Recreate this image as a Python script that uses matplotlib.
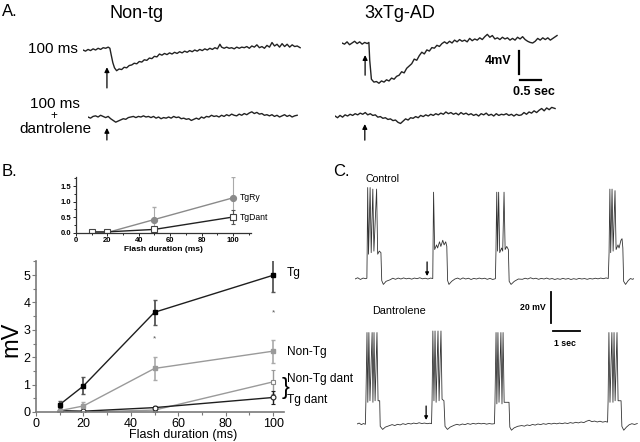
import numpy as np
import matplotlib
matplotlib.use("Agg")
import matplotlib.pyplot as plt
from matplotlib.ticker import MultipleLocator, FormatStrFormatter

plt.rcParams['font.family'] = ['Liberation Sans', 'DejaVu Sans']

# ---------- data ----------
# A. light-flash responses (time in s, membrane potential in mV, relative to baseline)
nontg_t = [0.00, 0.06, 0.12, 0.18, 0.24, 0.30, 0.36, 0.42, 0.48, 0.54, 0.60, 0.64, 0.67, 0.71, 0.75,
           0.80, 0.86, 0.92, 0.98, 1.04, 1.10, 1.16, 1.22, 1.28, 1.34, 1.40, 1.46, 1.52, 1.58, 1.64,
           1.70, 1.76, 1.82, 1.88, 1.94, 2.00, 2.06, 2.12, 2.18, 2.24, 2.30, 2.36, 2.42, 2.48, 2.54,
           2.60, 2.66, 2.72, 2.78, 2.84, 2.90, 2.96, 3.02, 3.08, 3.14, 3.20, 3.26, 3.30, 3.36, 3.42,
           3.48, 3.54, 3.60, 3.66, 3.72, 3.78, 3.84, 3.90, 3.96, 4.02, 4.08, 4.14, 4.20, 4.26, 4.32,
           4.38, 4.44, 4.50, 4.56, 4.62, 4.68, 4.74, 4.80, 4.86, 4.92, 4.98, 5.04, 5.10, 5.17]
nontg_v = [0.0, -0.2, 0.1, -0.1, 0.2, 0.0, 0.3, 0.1, 0.4, 0.3, 0.5, 0.3, -0.8, -2.2, -3.1,
           -3.6, -3.3, -3.4, -3.0, -3.1, -2.7, -2.6, -2.3, -2.4, -2.0, -2.1, -1.7, -1.8, -1.4, -1.5,
           -1.1, -1.2, -0.7, -0.9, -0.6, -0.8, -0.5, -0.7, -0.4, -0.6, -0.3, -0.5, -0.2, -0.4, -0.1,
           -0.3, 0.0, -0.2, 0.1, -0.1, 0.2, 0.0, 0.3, 0.1, 0.4, 0.2, 1.0, 0.5, 0.3, 0.5,
           0.3, 0.4, 0.2, 0.5, 0.3, 0.5, 0.4, 0.6, 0.3, 0.7, 0.5, 0.9, 0.4, 0.6, 0.3,
           0.8, 0.5, 1.3, 0.7, 1.0, 0.5, 1.1, 0.6, 1.0, 0.5, 0.9, 0.6, 0.7, 0.4]

nontg_dant_t = [0.00, 0.06, 0.12, 0.18, 0.24, 0.30, 0.36, 0.42, 0.48, 0.54, 0.60, 0.66, 0.72, 0.78,
                0.84, 0.90, 0.96, 1.02, 1.08, 1.14, 1.20, 1.26, 1.32, 1.38, 1.44, 1.50, 1.56, 1.62,
                1.68, 1.74, 1.80, 1.86, 1.92, 1.98, 2.04, 2.10, 2.16, 2.22, 2.28, 2.34, 2.40, 2.46,
                2.52, 2.58, 2.64, 2.70, 2.76, 2.82, 2.88, 2.94, 3.00, 3.06, 3.12, 3.18, 3.24, 3.30,
                3.36, 3.42, 3.48, 3.54, 3.60, 3.66, 3.72, 3.78, 3.84, 3.90, 3.96, 4.02, 4.08, 4.14,
                4.20, 4.26, 4.32, 4.38, 4.44, 4.50, 4.56, 4.62, 4.68, 4.74, 4.80, 4.86, 4.92, 4.98]
nontg_dant_v = [0.0, -0.2, 0.1, 0.2, 0.0, 0.3, 0.1, -0.1, 0.1, -0.3, -0.6, -0.9, -0.7, -0.5,
                -0.3, -0.4, -0.1, 0.0, 0.1, -0.1, 0.1, 0.0, 0.2, 0.0, 0.1, -0.1, 0.1, -0.2,
                0.0, -0.3, -0.1, -0.2, 0.0, -0.2, 0.1, -0.1, 0.0, -0.3, -0.2, -0.4, -0.3, -0.6,
                -0.4, -0.2, -0.4, 0.0, -0.2, 0.1, 0.0, 0.3, 0.1, 0.2, 0.0, 0.3, 0.1, 0.4,
                0.2, 0.5, 0.3, 0.2, 0.5, 0.3, 0.6, 0.4, 0.7, 0.9, 0.6, 0.8, 0.5, 0.6,
                0.3, 0.4, 0.2, 0.4, 0.1, 0.3, 0.0, 0.2, 0.4, 0.1, 0.3, 0.0, 0.2, 0.3]

tg_t = [0.00, 0.06, 0.12, 0.18, 0.24, 0.30, 0.36, 0.42, 0.48, 0.54, 0.60, 0.64, 0.66, 0.70, 0.76,
        0.82, 0.88, 0.94, 1.00, 1.06, 1.12, 1.18, 1.24, 1.30, 1.36, 1.42, 1.48, 1.54, 1.60, 1.66,
        1.72, 1.78, 1.84, 1.90, 1.96, 2.02, 2.08, 2.14, 2.20, 2.26, 2.32, 2.38, 2.44, 2.50, 2.56,
        2.62, 2.68, 2.74, 2.80, 2.86, 2.92, 2.98, 3.04, 3.10, 3.16, 3.22, 3.28, 3.34, 3.40, 3.46,
        3.52, 3.58, 3.64, 3.70, 3.76, 3.82, 3.88, 3.94, 4.00, 4.06, 4.12, 4.18, 4.24, 4.30, 4.36,
        4.42, 4.48, 4.54, 4.60, 4.66, 4.72, 4.78, 4.84, 4.90, 4.96, 5.02, 5.08, 5.12]
tg_v = [0.0, -0.2, 0.2, -0.3, 0.0, 0.3, -0.1, 0.2, -0.2, 0.1, -0.1, 0.1, -3.0, -6.3, -6.8,
        -6.7, -7.0, -6.6, -6.8, -6.4, -6.6, -6.1, -6.3, -5.8, -5.6, -5.0, -5.2, -4.4, -4.0, -3.6,
        -2.8, -3.0, -2.2, -1.6, -1.9, -1.2, -1.4, -0.8, -0.9, -0.4, -0.6, -0.1, 0.2, -0.1, 0.3,
        0.0, 0.5, 0.2, 0.6, 0.3, 0.5, 0.2, 0.8, 0.4, 0.7, 0.5, 0.9, 0.6, 1.1, 1.5,
        1.0, 1.3, 0.7, 0.9, 0.6, 1.0, 0.7, 0.9, 0.5, 0.8, 0.5, 1.0, 0.7, 1.1, 0.6,
        0.3, 0.1, 0.0, 0.3, 0.8, 0.5, 0.9, 0.6, 0.9, 0.5, 0.8, 1.1, 1.3]

tg_dant_t = [0.00, 0.06, 0.12, 0.18, 0.24, 0.30, 0.36, 0.42, 0.48, 0.54, 0.60, 0.66, 0.72, 0.78,
             0.84, 0.90, 0.96, 1.02, 1.08, 1.14, 1.20, 1.26, 1.32, 1.38, 1.44, 1.50, 1.56, 1.62,
             1.68, 1.74, 1.80, 1.86, 1.92, 1.98, 2.04, 2.10, 2.16, 2.22, 2.28, 2.34, 2.40, 2.46,
             2.52, 2.58, 2.64, 2.70, 2.76, 2.82, 2.88, 2.94, 3.00, 3.06, 3.12, 3.18, 3.24, 3.30,
             3.36, 3.42, 3.48, 3.54, 3.60, 3.66, 3.72, 3.78, 3.84, 3.90, 3.96, 4.02, 4.08, 4.14,
             4.20, 4.26, 4.32, 4.38, 4.44, 4.50, 4.56, 4.62, 4.68, 4.74, 4.80, 4.86, 4.92, 4.98,
             5.04, 5.10, 5.16, 5.24]
tg_dant_v = [0.0, -0.3, 0.1, -0.2, 0.2, 0.0, 0.3, 0.1, 0.4, 0.2, 0.5, 0.3, 0.6, 0.2,
             0.4, 0.1, 0.2, -0.2, -0.1, -0.4, -0.3, -0.6, -0.5, -0.8, -0.7, -1.1, -1.3, -0.9,
             -0.5, -0.7, -0.3, -0.4, -0.1, -0.3, 0.1, -0.1, 0.2, 0.0, 0.3, 0.1, 0.4, 0.2,
             0.5, 0.3, 0.7, 0.4, 0.6, 0.3, 0.5, 0.2, 0.6, 0.3, 0.5, 0.2, 0.4, 0.1,
             0.3, 0.0, 0.4, 0.2, 0.5, 0.1, 0.3, 0.0, 0.4, 0.1, 0.3, 0.2, 0.4, 0.1,
             0.3, 0.0, 0.3, 0.1, 0.2, 0.6, 0.3, 0.7, 0.5, 0.9, 0.6, 1.0, 1.3, 0.9,
             1.4, 1.1, 1.5, 1.3]

# B. amplitude vs flash duration
flash_ms = [10, 20, 50, 100]
tg_amp = [0.27, 0.95, 3.64, 4.99]
tg_err = [0.14, 0.31, 0.46, 0.60]
nontg_amp = [0.05, 0.22, 1.59, 2.22]
nontg_err = [0.02, 0.14, 0.43, 0.42]
nontg_dant_amp = [0.02, 0.0, 0.07, 1.10]
nontg_dant_err = [0.0, 0.0, 0.03, 0.45]
tg_dant_amp = [0.05, 0.03, 0.16, 0.53]
tg_dant_err = [0.02, 0.02, 0.05, 0.23]
signif_ms = [50, 100]
signif_y = [2.66, 3.60]

# B inset
tgry_amp = [0.0, 0.0, 0.42, 1.12]
tgry_err = [0.0, 0.0, 0.40, 0.68]
tgdant_amp = [0.02, 0.02, 0.10, 0.50]
tgdant_err = [0.0, 0.0, 0.05, 0.24]

# C. spontaneous bursts (time in s, mV relative to resting level)
ctrl_t = [0.00, 0.10, 0.20, 0.30, 0.40, 0.44,
          0.45, 0.47, 0.50, 0.56, 0.60, 0.66, 0.70, 0.80, 0.84, 0.90, 0.96, 0.99, 1.05, 1.15, 1.30,
          1.40, 1.50, 1.60, 1.70, 1.80, 1.90, 2.00, 2.10, 2.20, 2.30, 2.40, 2.50, 2.60, 2.70, 2.80, 2.88,
          2.89, 2.91, 2.95, 3.02, 3.06, 3.13, 3.18, 3.25, 3.30, 3.36, 3.40, 3.43, 3.48, 3.58, 3.70,
          3.80, 3.90, 4.00, 4.10, 4.20, 4.30, 4.40, 4.50, 4.60, 4.70, 4.80, 4.90, 5.00, 5.10, 5.20,
          5.22, 5.25, 5.28, 5.32, 5.36, 5.43, 5.47, 5.52, 5.56, 5.62, 5.68, 5.71, 5.78, 5.90, 6.05,
          6.20, 6.30, 6.40, 6.50, 6.60, 6.70, 6.80, 6.90, 7.00, 7.10, 7.20, 7.30, 7.40, 7.50, 7.60,
          7.70, 7.80, 7.90, 8.00, 8.10, 8.20, 8.30, 8.40, 8.50, 8.60, 8.70, 8.80, 8.90, 9.00, 9.10,
          9.20, 9.30, 9.38,
          9.41, 9.44, 9.47, 9.52, 9.56, 9.63, 9.67, 9.74, 9.78, 9.85, 9.89, 9.92, 9.95, 10.02,
          10.12, 10.20, 10.28, 10.35]
ctrl_v = [0.0, 0.8, -0.3, 0.6, 0.2, 0.5,
          17, 59, 16, 59, 17, 58, 18, 58, 16, 18, 17, -1.0, -3.5, -1.5, -0.5,
          0.5, -0.2, 0.6, 0.0, 0.7, 0.1, 0.5, -0.1, 0.6, 0.2, 0.8, 0.1, 0.5, 0.0, 0.6, 0.3,
          18, 56, 19, 22, 20, 24, 21, 25, 22, 24, 21, -1.0, -3.5, -1.5, 0.0,
          0.6, -0.2, 0.7, 0.0, 0.5, -0.3, 0.4, 0.0, 0.6, 0.1, 0.5, -0.2, 0.4, -0.3, 0.2,
          17, 56, 18, 56, 17, 20, 18, 56, 19, 21, 19, -1.5, -3.5, -1.5, 0.0,
          -0.2, 0.5, 0.0, 0.8, 0.1, 0.5, -0.2, 0.4, 0.0, 0.6, -0.1, 0.3, -0.3, 0.2, -0.2,
          0.4, -0.1, 0.3, -0.3, 0.2, -0.2, 0.4, 0.0, 0.3, -0.2, 0.3, 0.0, 0.5, 0.1, 0.6,
          0.2, 0.7, 0.3,
          17, 58, 17, 58, 18, 57, 19, 22, 20, 25, 26, 20, -1.5, -3.5,
          -1.0, 0.3, -0.2, 0.4]

dant_t = [0.00, 0.08, 0.16, 0.24, 0.31,
          0.33, 0.37, 0.40, 0.44, 0.48, 0.56, 0.59, 0.63, 0.67, 0.74, 0.78, 0.84, 0.86, 0.95, 1.05, 1.20,
          1.30, 1.40, 1.50, 1.60, 1.70, 1.80, 1.90, 2.00, 2.10, 2.20, 2.30, 2.40, 2.50, 2.60, 2.70, 2.76,
          2.78, 2.81, 2.85, 2.89, 2.93, 3.00, 3.04, 3.11, 3.15, 3.22, 3.26, 3.35, 3.45, 3.60,
          3.70, 3.80, 3.90, 4.00, 4.10, 4.20, 4.30, 4.40, 4.50, 4.60, 4.70, 4.80, 4.90, 5.00, 5.09,
          5.11, 5.15, 5.18, 5.22, 5.26, 5.33, 5.37, 5.41, 5.45, 5.58, 5.63, 5.66, 5.72, 5.82, 5.95,
          6.10, 6.20, 6.30, 6.40, 6.50, 6.60, 6.70, 6.80, 6.90, 7.00, 7.10, 7.20, 7.30, 7.40, 7.50,
          7.60, 7.70, 7.80, 7.90, 8.00, 8.10, 8.20, 8.30, 8.40, 8.50, 8.60, 8.70, 8.80, 8.90, 9.00,
          9.10, 9.20, 9.28,
          9.30, 9.33, 9.37, 9.44, 9.48, 9.52, 9.56, 9.63, 9.67, 9.78, 9.81, 9.88, 9.98, 10.08,
          10.18, 10.28, 10.38]
dant_v = [0.0, 0.6, -0.4, 0.3, -0.2,
          15, 59, 14, 59, 15, 59, 14, 59, 15, 59, 15, 15, -1.5, -3.5, -2.0, -1.0,
          -0.4, -1.0, -0.2, -0.6, 0.2, -0.3, 0.4, 0.0, 0.6, 0.2, 0.8, 0.3, 0.6, 0.2, 0.5, 0.2,
          15, 60, 15, 60, 14, 60, 15, 60, 16, 15, -1.5, -3.5, -2.0, -0.8,
          -0.2, -0.7, 0.0, -0.4, 0.3, -0.2, 0.4, 0.0, 0.5, 0.1, 0.4, -0.1, 0.3, 0.0, 0.2,
          14, 59, 13, 59, 14, 59, 13, 59, 14, 14, 14, -2.0, -4.0, -2.5, -1.5,
          -1.0, -1.4, -0.6, -1.0, -0.3, -0.7, 0.0, -0.4, 0.2, -0.2, 0.4, 0.0, 0.5, 0.1, 0.6,
          0.2, 0.7, 0.3, 0.9, 0.5, 1.1, 0.7, 1.3, 0.9, 1.8, 2.4, 1.5, 1.9, 1.3, 1.8,
          1.2, 1.6, 1.2,
          15, 59, 14, 59, 14, 59, 15, 59, 15, 15, -1.5, -4.0, -2.0, -0.5,
          0.2, -0.3, 0.3]

# ---------- layout helpers (pixel positions of the 640x442 figure) ----------
W, H = 640, 442
fig = plt.figure(figsize=(6.4, 4.42), dpi=100)


def px_box(left, top, right, bottom):
    return [left / W, 1 - bottom / H, (right - left) / W, (bottom - top) / H]


def trace_axes(x0, y0, xpx, ypx, tmax, vlo, vhi):
    # x0, y0: pixel of (t=0, v=0); xpx: px per s; ypx: px per mV
    ax = fig.add_axes(px_box(x0, y0 - vhi * ypx, x0 + tmax * xpx, y0 - vlo * ypx))
    ax.set_xlim(0, tmax)
    ax.set_ylim(vlo, vhi)
    ax.axis('off')
    return ax


def stim_arrow(ax, t, v_tail, v_head, ms=7):
    ax.annotate('', xy=(t, v_head), xytext=(t, v_tail), annotation_clip=False,
                arrowprops=dict(arrowstyle='-|>', color='k', lw=0.9, mutation_scale=ms,
                                shrinkA=0, shrinkB=0))


# overlay for labels
ov = fig.add_axes([0, 0, 1, 1], zorder=-1)
ov.set_xlim(0, W)
ov.set_ylim(H, 0)
ov.axis('off')
ov.patch.set_alpha(0)

# ---------- panel A ----------
ov.text(2, 12, 'A.', fontsize=12, va='center')
ov.text(137, 13, 'Non-tg', fontsize=13, ha='center', va='center')
ov.text(400, 13, '3xTg-AD', fontsize=13, ha='center', va='center')
ov.text(78, 49, '100 ms', fontsize=11, ha='right', va='center')
ov.text(55, 104, '100 ms', fontsize=11, ha='center', va='center')
ov.text(54, 116.5, '+', fontsize=8.5, ha='center', va='center')
ov.text(55, 129, 'dantrolene', fontsize=11, ha='center', va='center')

a1 = trace_axes(83, 50, 42, 5.75, 5.2, -8, 3)
a1.plot(nontg_t, nontg_v, color='#222222', lw=1.0)
stim_arrow(a1, 0.57, -6.6, -3.0)

a2 = trace_axes(88, 117, 42, 5.75, 5.0, -5, 3)
a2.plot(nontg_dant_t, nontg_dant_v, color='#222222', lw=1.0)
stim_arrow(a2, 0.45, -4.0, -1.9)

a3 = trace_axes(342, 43, 42, 5.75, 5.15, -8, 2)
a3.plot(tg_t, tg_v, color='#222222', lw=1.0)
stim_arrow(a3, 0.55, -5.6, -2.1)
# scale bars: 4 mV, 0.5 s
a3.plot([4.21, 4.21], [-1.4, -5.4], color='k', lw=1.6, clip_on=False)
a3.plot([4.24, 4.74], [-6.4, -6.4], color='k', lw=1.6, clip_on=False)
ov.text(511, 61, '4mV', fontsize=9, fontweight='bold', ha='right', va='center')
ov.text(534, 92, '0.5 sec', fontsize=9, fontweight='bold', ha='center', va='center')

a4 = trace_axes(335, 116, 42, 5.75, 5.25, -5, 3)
a4.plot(tg_dant_t, tg_dant_v, color='#222222', lw=1.0)
stim_arrow(a4, 0.71, -4.2, -1.4)

# ---------- panel B ----------
ov.text(2, 172, 'B.', fontsize=12, va='center')
ov.text(11, 339, 'mV', fontsize=17, rotation=90, ha='center', va='center')
ov.text(183, 435, 'Flash duration (ms)', fontsize=9, ha='center', va='center')

dark, grey = '#1e1e1e', '#9a9a9a'
axis_grey = '#7a7a7a'

b = fig.add_axes(px_box(36, 261.3, 283.5, 412))
b.set_xlim(0, 104.4)
b.set_ylim(0, 5.5)
b.errorbar(flash_ms, nontg_dant_amp, yerr=nontg_dant_err, color=grey, lw=1.0, marker='s', ms=3.5,
           mfc='white', mec='#888888', mew=0.8, capsize=1.5, elinewidth=1.0)
b.errorbar(flash_ms, tg_dant_amp, yerr=tg_dant_err, color=dark, lw=1.0, marker='o', ms=3.5,
           mfc='white', mec=dark, mew=0.8, capsize=1.5, elinewidth=1.0)
b.errorbar(flash_ms, nontg_amp, yerr=nontg_err, color=grey, lw=1.0, marker='s', ms=3.2,
           mfc=grey, mec=grey, capsize=1.5, elinewidth=1.2, ecolor='#aaaaaa')
b.errorbar(flash_ms, tg_amp, yerr=tg_err, color=dark, lw=1.0, marker='s', ms=3.0,
           mfc='k', mec='k', capsize=1.5, elinewidth=1.3, ecolor='#555555')
for xm, ym in zip(signif_ms, signif_y):
    b.text(xm, ym, '*', fontsize=6, color='#555555', ha='center', va='center')
for s in ['top', 'right']:
    b.spines[s].set_visible(False)
for s in ['left', 'bottom']:
    b.spines[s].set_color(axis_grey)
    b.spines[s].set_linewidth(1.2)
b.xaxis.set_major_locator(MultipleLocator(20))
b.xaxis.set_minor_locator(MultipleLocator(10))
b.yaxis.set_major_locator(MultipleLocator(1))
b.yaxis.set_minor_locator(MultipleLocator(0.5))
b.tick_params(which='both', colors=axis_grey, labelcolor='k', labelsize=9, length=3, width=0.8,
              pad=1)
b.tick_params(which='minor', length=2)
b.patch.set_alpha(0)

b.text(105.9, 5.07, 'Tg', fontsize=8.6, va='center', clip_on=False)
b.text(105.9, 2.19, 'Non-Tg', fontsize=8.6, va='center', clip_on=False)
b.text(105.9, 1.2, 'Non-Tg dant', fontsize=8.6, va='center', clip_on=False)
b.text(105.9, 0.44, 'Tg dant', fontsize=8.6, va='center', clip_on=False)
b.text(103.4, 0.86, '}', fontsize=17, va='center', ha='left', fontweight='light', clip_on=False)

# inset
ins = fig.add_axes(px_box(76, 176.8, 251, 232.5))
ins.set_xlim(0, 111.5)
ins.set_ylim(0, 1.8)
ins.errorbar(flash_ms, tgry_amp, yerr=tgry_err, color='#8a8a8a', lw=1.0, marker='o', ms=4.2,
             mfc='#8a8a8a', mec='#8a8a8a', capsize=1.2, elinewidth=0.8, ecolor='#aaaaaa')
ins.errorbar(flash_ms, tgdant_amp, yerr=tgdant_err, color='#222222', lw=1.0, marker='s', ms=4.2,
             mfc='white', mec='#444444', mew=0.8, capsize=1.2, elinewidth=0.8, ecolor='#555555')
for s in ['top', 'right']:
    ins.spines[s].set_visible(False)
for s in ['left', 'bottom']:
    ins.spines[s].set_color('#333333')
    ins.spines[s].set_linewidth(0.9)
ins.xaxis.set_major_locator(MultipleLocator(20))
ins.xaxis.set_minor_locator(MultipleLocator(10))
ins.yaxis.set_major_locator(MultipleLocator(0.5))
ins.yaxis.set_minor_locator(MultipleLocator(0.25))
ins.yaxis.set_major_formatter(FormatStrFormatter('%.1f'))
ins.tick_params(which='both', labelsize=5.5, length=2, width=0.6, pad=1.5)
ins.tick_params(which='minor', length=1.2)
for lab in ins.get_xticklabels() + ins.get_yticklabels():
    lab.set_fontweight('bold')
ins.set_xlabel('Flash duration (ms)', fontsize=6, fontweight='bold', labelpad=1)
ins.text(104.5, 1.14, 'TgRy', fontsize=6.2, va='center', clip_on=False)
ins.text(104.5, 0.49, 'TgDant', fontsize=6.2, va='center', clip_on=False)
ins.patch.set_alpha(0)

# ---------- panel C ----------
ov.text(333, 172, 'C.', fontsize=12, va='center')
ov.text(366, 179, 'Control', fontsize=7.6, va='center')
ov.text(372, 311, 'Dantrolene', fontsize=7.8, va='center')
ov.text(546, 307, '20 mV', fontsize=6.3, fontweight='bold', ha='right', va='center')
ov.text(565, 343, '1 sec', fontsize=6.3, fontweight='bold', ha='center', va='center')

c1 = trace_axes(355, 279, 27, 1.55, 10.35, -12, 62)
c1.plot(ctrl_t, ctrl_v, color='#333333', lw=0.6)
stim_arrow(c1, 2.67, 11.0, 1.9, ms=5)

c2 = trace_axes(357, 424, 27, 1.55, 10.4, -8, 62)
c2.plot(dant_t, dant_v, color='#333333', lw=0.6)
stim_arrow(c2, 2.56, 11.6, 2.6, ms=5)
# scale bars: 20 mV, 1 s
c2.plot([7.19, 7.19], [85.2, 65.2], color='k', lw=1.3, clip_on=False)
c2.plot([7.26, 8.26], [60, 60], color='k', lw=1.3, clip_on=False)

fig.savefig('out.png', dpi=100)
